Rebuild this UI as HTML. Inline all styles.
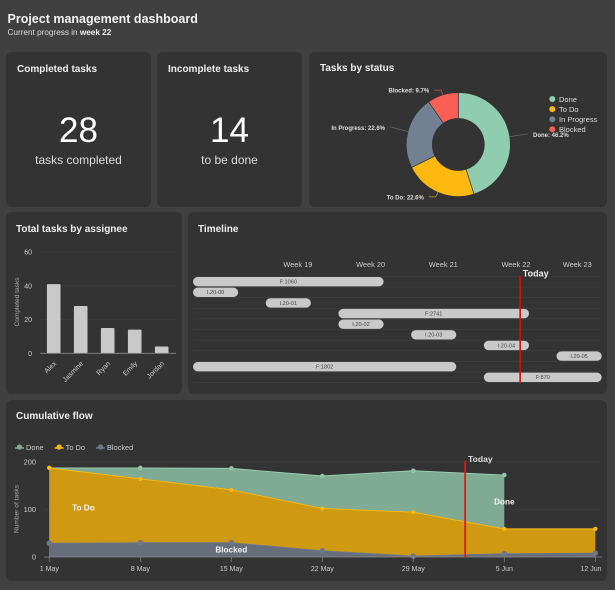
<!DOCTYPE html>
<html lang="en">
<head>
<meta charset="utf-8">
<title>Project management dashboard</title>
<style>
html,body{margin:0;padding:0;width:615px;height:590px;overflow:hidden;background:#404040;font-family:"Liberation Sans",sans-serif;color:#eee}
#page{position:relative;width:615px;height:590px;background:#404040}
.panel{position:absolute;background:#333;border-radius:6px}
.title{position:absolute;font-weight:bold;font-size:10px;color:#eee;white-space:nowrap}
.big{position:absolute;left:0;right:0;text-align:center;font-size:35px;line-height:36px;color:#fff}
.sub{position:absolute;left:0;right:0;text-align:center;font-size:12px;line-height:14px;color:#ddd}
svg{position:absolute;overflow:visible}
svg text{font-family:"Liberation Sans",sans-serif}
</style>
</head>
<body>
<div id="page">
  <div style="position:absolute;left:7.5px;top:12px;font-weight:bold;font-size:12.5px;line-height:15px;color:#f2f2f2;white-space:nowrap">Project management dashboard</div>
  <div style="position:absolute;left:7.5px;top:28px;font-size:8.2px;line-height:10px;color:#ddd;white-space:nowrap">Current progress in <b style="color:#eee">week 22</b></div>

  <div class="panel" style="left:6px;top:52px;width:145px;height:155px">
    <div class="title" style="left:11px;top:12px">Completed tasks</div>
    <div class="big" style="top:61px">28</div>
    <div class="sub" style="top:101px">tasks completed</div>
  </div>
  <div class="panel" style="left:157px;top:52px;width:145px;height:155px">
    <div class="title" style="left:11px;top:12px">Incomplete tasks</div>
    <div class="big" style="top:61px">14</div>
    <div class="sub" style="top:101px">to be done</div>
  </div>
  <div class="panel" style="left:309px;top:52px;width:298px;height:155px">
    <div class="title" style="left:11px;top:11px">Tasks by status</div>
  </div>
  <div class="panel" style="left:6px;top:212px;width:176px;height:182px">
    <div class="title" style="left:10px;top:12px">Total tasks by assignee</div>
  </div>
  <div class="panel" style="left:188px;top:212px;width:419px;height:182px">
    <div class="title" style="left:10px;top:12px">Timeline</div>
  </div>
  <div class="panel" style="left:6px;top:400px;width:601px;height:181px">
    <div class="title" style="left:10px;top:11px">Cumulative flow</div>
  </div>

  <svg id="chart" width="615" height="590" viewBox="0 0 615 590" style="left:0;top:0"></svg>
</div>

<script>
/* Tasks by status */
var statusNames = ['Done', 'To Do', 'In Progress', 'Blocked'];
var statusValues = [45.2, 22.6, 22.6, 9.7];
var statusPrinted = ['46.2%', '22.6%', '22.6%', '9.7%'];
var statusColors = ['#90cdb0', '#fdb90f', '#718093', '#fa5f55'];

/* Total tasks by assignee */
var assignees = ['Alex', 'Jasmine', 'Ryan', 'Emily', 'Jordan'];
var assigneeTasks = [41, 28, 15, 14, 4];
var assigneeTicks = [0, 20, 40, 60];

/* Timeline: start and end are in days since the first bar */
var timelineLabels = ['F:1060', 'I.20-00', 'I.20-01', 'F:2741', 'I.20-02', 'I.20-03', 'I.20-04', 'I.20-05', 'F:1802', 'F:870'];
var timelineRows = [0, 1, 2, 3, 4, 5, 6, 7, 8, 9];
var timelineStart = [0, 0, 7, 14, 14, 21, 28, 35, 0, 28];
var timelineEnd = [18.35, 4.35, 11.35, 32.35, 18.35, 25.35, 32.35, 39.35, 25.35, 39.35];
var weekNames = ['Week 19', 'Week 20', 'Week 21', 'Week 22', 'Week 23'];
var weekDays = [10.1, 17.1, 24.1, 31.1, 37];
var timelineToday = 31.5;

/* Cumulative flow */
var flowDates = ['1 May', '8 May', '15 May', '22 May', '29 May', '5 Jun', '12 Jun'];
var flowDone = [187, 187, 186, 170, 181, 172, null];
var flowTodo = [187, 164, 141, 102, 94, 59, 59];
var flowBlocked = [29, 30, 30, 13, 2, 7, 8];
var flowTicks = [0, 100, 200];
var flowToday = 4.57;

var NS = 'http://www.w3.org/2000/svg';
var root = document.getElementById('chart');
function mk(tag, attrs, parent) {
  var el = document.createElementNS(NS, tag);
  for (var k in attrs) el.setAttribute(k, attrs[k]);
  (parent || root).appendChild(el);
  return el;
}
function txt(str, attrs, parent) {
  var el = mk('text', attrs, parent);
  el.textContent = str;
  return el;
}

/* ---------- donut ---------- */
(function () {
  var cx = 458.3, cy = 144.5, R = 52, r = 26;
  var total = statusValues.reduce(function (a, b) { return a + b; }, 0);
  function pt(rad, ang) { return [cx + rad * Math.sin(ang), cy - rad * Math.cos(ang)]; }
  var a0 = 0;
  statusValues.forEach(function (v, i) {
    var a1 = a0 + v / total * Math.PI * 2, large = a1 - a0 > Math.PI ? 1 : 0;
    var p1 = pt(R, a0), p2 = pt(R, a1), p3 = pt(r, a1), p4 = pt(r, a0);
    var slice = mk('path', {
      d: 'M' + p1 + 'A' + R + ' ' + R + ' 0 ' + large + ' 1 ' + p2 + 'L' + p3 + 'A' + r + ' ' + r + ' 0 ' + large + ' 0 ' + p4 + 'Z',
      fill: statusColors[i], stroke: '#333', 'stroke-width': 0.7
    });
    
    

    var mid = (a0 + a1) / 2, s = Math.sin(mid), o = pt(R, mid), lineD, lx, ly;
    var side = s >= 0 ? 1 : -1;
    if (Math.abs(s) > 0.8) {
      var e = pt(R + 18.5, mid);
      lineD = 'M' + o + 'L' + e;
      lx = e[0] + side * 5; ly = e[1] + 3.2;
    } else {
      var b = pt(R + 5, mid);
      lineD = 'M' + o + 'L' + b + 'L' + (b[0] + side * 7) + ' ' + b[1];
      lx = b[0] + side * 12; ly = b[1] + 2.5;
    }
    var leader = mk('path', { d: lineD, fill: 'none', stroke: i === 0 || i === 2 ? '#777' : statusColors[i], 'stroke-width': 0.7, opacity: 0.8 });
    
    
    var label = txt(statusNames[i] + ': ' + statusPrinted[i], { x: lx, y: ly, 'font-size': 6, 'font-weight': 'bold', fill: '#ddd', 'text-anchor': side > 0 ? 'start' : 'end' });
    
    
    a0 = a1;
  });
  statusNames.forEach(function (n, i) {
    var y = 99 + i * 10.1;
    var dot = mk('circle', { cx: 552.3, cy: y, r: 3, fill: statusColors[i] });
    
    
    var t = txt(n, { x: 559, y: y + 2.8, 'font-size': 7.5, fill: '#ddd' });
    
    
  });
})();

/* ---------- bars ---------- */
(function () {
  function y(v) { return 353.3 - v * 101.3 / 60; }
  function x(i) { return 53.7 + i * 27; }
  assigneeTicks.forEach(function (v) {
    if (v > 0) {
      var g = mk('line', { x1: 40, x2: 176, y1: y(v), y2: y(v), stroke: '#3c3c3c', 'stroke-width': 0.7 });
      
      
    }
    var t = txt(v, { x: 32, y: y(v) + 2.6, 'font-size': 7, fill: '#ccc', 'text-anchor': 'end' });
    
    
  });
  assigneeTasks.forEach(function (v, i) {
    var b = mk('rect', { x: x(i) - 6.8, y: y(v), width: 13.6, height: y(0) - y(v), fill: '#c9c9c9', rx: 0.8 });
    
    
    var t = txt(assignees[i], { x: x(i) + 3, y: 364, 'font-size': 7, fill: '#ccc', 'text-anchor': 'end', transform: 'rotate(-45 ' + (x(i) + 3) + ' 364)' });
    
    
  });
  var ax = mk('line', { x1: 40, x2: 176, y1: y(0), y2: y(0), stroke: '#8a8a8a', 'stroke-width': 0.8 });
  
  
  var yt = txt('Completed tasks', { x: 0, y: 0, 'font-size': 6.6, fill: '#aaa', 'text-anchor': 'middle', transform: 'translate(19 302) rotate(-90)' });
  
  
})();

/* ---------- timeline ---------- */
(function () {
  function x(d) { return 193 + d * 72.7 / 7; }
  function rowY(r) { return 281.7 + r * 10.62; }
  for (var i = 0; i <= timelineRows.length; i++) {
    var l = mk('line', { x1: 193, x2: 601, y1: rowY(i) - 5.3, y2: rowY(i) - 5.3, stroke: '#424242', 'stroke-width': 0.6 });
    
    
  }
  weekNames.forEach(function (w, i) {
    var t = txt(w, { x: x(weekDays[i]), y: 267, 'font-size': 7.4, fill: '#ccc', 'text-anchor': 'middle' });
    
    
  });
  timelineLabels.forEach(function (n, i) {
    var yc = rowY(timelineRows[i]), x0 = x(timelineStart[i]), x1 = x(timelineEnd[i]);
    var b = mk('rect', { x: x0, y: yc - 4.7, width: x1 - x0, height: 9.4, rx: 4.7, fill: '#c9c9c9' });
    
    
    var t = txt(n, { x: (x0 + x1) / 2, y: yc + 1.9, 'font-size': 5.6, fill: '#444', 'text-anchor': 'middle' });
    
    
  });
  var td = mk('line', { x1: x(timelineToday), x2: x(timelineToday), y1: 275.7, y2: 382.7, stroke: '#d40f0f', 'stroke-width': 1.6 });
  
  
  var tt = txt('Today', { x: x(timelineToday) + 2.6, y: 276.5, 'font-size': 9, 'font-weight': 'bold', fill: '#eee' });
  
  
})();

/* ---------- cumulative flow ---------- */
(function () {
  function x(i) { return 49.3 + i * 91; }
  function y(v) { return 557 - v * 0.4765; }
  flowTicks.forEach(function (v) {
    if (v > 0) {
      var g = mk('line', { x1: 44, x2: 602, y1: y(v), y2: y(v), stroke: '#3c3c3c', 'stroke-width': 0.7 });
      
      
    }
    var t = txt(v, { x: 36, y: y(v) + 2.6, 'font-size': 7.4, fill: '#ccc', 'text-anchor': 'end' });
    
    
  });
  var series = [
    { name: 'done', vals: flowDone, fill: '#7faa94', line: '#9ed0b6', dot: '#92c4aa', size: 2.3 },
    { name: 'todo', vals: flowTodo, fill: '#cf9a12', line: '#fdb90f', dot: '#fdb90f', size: 2.1 },
    { name: 'blocked', vals: flowBlocked, fill: '#666e7c', line: '#6f7888', dot: '#6f7888', size: 2.8 }
  ];
  series.forEach(function (s) {
    var pts = [];
    s.vals.forEach(function (v, i) { if (v !== null) pts.push([x(i), y(v)]); });
    var area = mk('path', {
      d: 'M' + pts[0][0] + ' ' + y(0) + 'L' + pts.join('L') + 'L' + pts[pts.length - 1][0] + ' ' + y(0) + 'Z',
      fill: s.fill
    });
    
    
    var line = mk('path', { d: 'M' + pts.join('L'), fill: 'none', stroke: s.line, 'stroke-width': 0.9 });
    
    
    pts.forEach(function (p) {
      var c = mk('circle', { cx: p[0], cy: p[1], r: s.size, fill: s.dot });
      
      
    });
  });
  var ax = mk('line', { x1: 44, x2: 602, y1: y(0), y2: y(0), stroke: '#8a8a8a', 'stroke-width': 0.8 });
  
  
  flowDates.forEach(function (d, i) {
    var tk = mk('line', { x1: x(i), x2: x(i), y1: y(0), y2: y(0) + 5, stroke: '#8a8a8a', 'stroke-width': 0.7 });
    
    
    var lx = Math.min(x(i), 591);
    var t = txt(d, { x: lx, y: 571, 'font-size': 7, fill: '#ccc', 'text-anchor': 'middle' });
    
    
  });
  var td = mk('line', { x1: x(flowToday), x2: x(flowToday), y1: 461, y2: y(0), stroke: '#dd1a10', 'stroke-width': 1.8 });
  
  
  var tl = txt('Today', { x: x(flowToday) + 2.8, y: 462, 'font-size': 8.6, 'font-weight': 'bold', fill: '#ddd' });
  
  
  var a1 = txt('To Do', { x: x(0.375), y: 510.5, 'font-size': 8.2, 'font-weight': 'bold', fill: '#f4f4f4', 'text-anchor': 'middle' });
  
  
  var a2 = txt('Blocked', { x: x(2), y: 552.5, 'font-size': 8.2, 'font-weight': 'bold', fill: '#f4f4f4', 'text-anchor': 'middle' });
  
  
  var a3 = txt('Done', { x: x(5), y: 504.5, 'font-size': 8.2, 'font-weight': 'bold', fill: '#f4f4f4', 'text-anchor': 'middle' });
  
  
  var yt = txt('Number of tasks', { x: 0, y: 0, 'font-size': 6.6, fill: '#aaa', 'text-anchor': 'middle', transform: 'translate(18.5 509) rotate(-90)' });
  
  

  var legendNames = ['Done', 'To Do', 'Blocked'];
  var legendColors = ['#7faa94', '#fdb90f', '#6f7888'];
  var lx = 15;
  legendNames.forEach(function (n, i) {
    var ln = mk('line', { x1: lx, x2: lx + 9, y1: 448, y2: 448, stroke: legendColors[i], 'stroke-width': 1.5 });
    
    
    var c = mk('circle', { cx: lx + 4.5, cy: 447, r: 2.6, fill: legendColors[i] });
    
    
    var t = txt(n, { x: lx + 11, y: 450, 'font-size': 7.4, fill: '#ccc' });
    
    
    lx += 11 + t.getComputedTextLength() + 11;
  });
})();
</script>
</body>
</html>
